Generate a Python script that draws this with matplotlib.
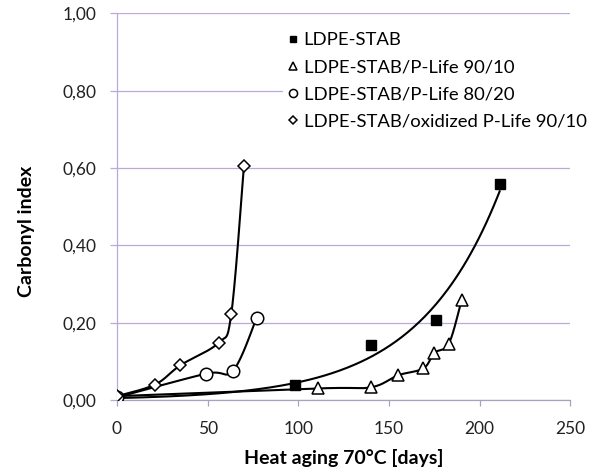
import numpy as np
import matplotlib.pyplot as plt
from matplotlib.ticker import FuncFormatter

plt.rcParams['font.family'] = ['Lato', 'DejaVu Sans']

# values (days, carbonyl index)
stab_x = [0, 98, 140, 176, 211]
stab_y = [0.005, 0.040, 0.142, 0.207, 0.560]

pl9010_x = [0, 111, 140, 155, 169, 175, 183, 190]
pl9010_y = [0.010, 0.030, 0.033, 0.064, 0.082, 0.122, 0.146, 0.258]

pl8020_x = [0, 49, 64, 77]
pl8020_y = [0.007, 0.068, 0.076, 0.212]

ox9010_x = [0, 21, 35, 56, 63, 70]
ox9010_y = [0.010, 0.040, 0.090, 0.148, 0.222, 0.605]

labels = ['LDPE-STAB', 'LDPE-STAB/P-Life 90/10', 'LDPE-STAB/P-Life 80/20',
          'LDPE-STAB/oxidized P-Life 90/10']

grid_col = '#bba9da'


def smooth(xs, ys, n=40):
    # catmull-rom through the points, like a spreadsheet smoothed line
    p = np.column_stack([np.asarray(xs) / 250.0, np.asarray(ys)])
    p = np.vstack([p[0], p, p[-1]])
    out = []
    t = np.linspace(0, 1, n)[:, None]
    for i in range(1, len(p) - 2):
        p0, p1, p2, p3 = p[i - 1], p[i], p[i + 1], p[i + 2]
        c1 = p1 + (p2 - p0) / 6
        c2 = p2 - (p3 - p1) / 6
        seg = ((1 - t) ** 3) * p1 + 3 * ((1 - t) ** 2) * t * c1 + 3 * (1 - t) * t ** 2 * c2 + t ** 3 * p2
        out.append(seg)
    out = np.vstack(out)
    return out[:, 0] * 250.0, out[:, 1]


fig = plt.figure(figsize=(5.95, 4.72), dpi=100)
ax = fig.add_axes([0.1966, 0.1525, 0.762, 0.819])

# exponential trend for LDPE-STAB
b, a = np.polyfit(stab_x, np.log(stab_y), 1)
xx = np.linspace(0, max(stab_x), 200)
ax.plot(xx, np.exp(a) * np.exp(b * xx), color='black', lw=1.5, zorder=3)

for xs, ys in [(pl9010_x, pl9010_y), (pl8020_x, pl8020_y), (ox9010_x, ox9010_y)]:
    sx, sy = smooth(xs, ys)
    ax.plot(sx, sy, color='black', lw=1.5, zorder=3)

ax.plot(stab_x, stab_y, 's', ms=7.5, mfc='black', mec='black', ls='none', label=labels[0], zorder=4)
ax.plot(pl9010_x, pl9010_y, '^', ms=9, mfc='white', mec='black', mew=1.1, ls='none', label=labels[1], zorder=4)
ax.plot(pl8020_x, pl8020_y, 'o', ms=9, mfc='white', mec='black', mew=1.1, ls='none', label=labels[2], zorder=4)
ax.plot(ox9010_x, ox9010_y, 'D', ms=6.5, mfc='white', mec='black', mew=1.1, ls='none', label=labels[3], zorder=4)

ax.set_xlim(0, 250)
ax.set_ylim(0, 1.0)
ax.set_xticks([0, 50, 100, 150, 200, 250])
ax.set_yticks([0, 0.2, 0.4, 0.6, 0.8, 1.0])
ax.yaxis.set_major_formatter(FuncFormatter(lambda v, p: f'{v:.2f}'.replace('.', ',')))
ax.grid(axis='y', color=grid_col, lw=0.9)
ax.set_axisbelow(True)

for s in ['top', 'right']:
    ax.spines[s].set_visible(False)
ax.spines['left'].set_color(grid_col)
ax.spines['left'].set_linewidth(0.9)
ax.spines['bottom'].set_color('#aaa0c0')
ax.spines['bottom'].set_linewidth(0.9)
ax.tick_params(axis='y', direction='out', length=5, width=0.9, color=grid_col,
               labelsize=12.5, pad=9.5, labelcolor='#222222')
ax.tick_params(axis='x', direction='out', length=4, width=0.9, color='#aaa0c0',
               labelsize=12.5, pad=11, labelcolor='#222222')

ax.set_xlabel('Heat aging 70°C [days]', fontsize=14, fontweight='bold', va='center')
ax.xaxis.set_label_coords(0.5, (400 - 458) / 386.5)
ax.set_ylabel('Carbonyl index', fontsize=14, fontweight='bold', va='center')
ax.yaxis.set_label_coords((27 - 117) / 453.5, 0.435)

leg = ax.legend(loc='upper left', bbox_to_anchor=(0.367, 0.963), frameon=True, fontsize=13.3,
                handlelength=0.5, handletextpad=0.35, labelspacing=0.6, borderpad=0.25,
                borderaxespad=0, markerscale=0.65)
leg.get_frame().set_edgecolor('none')
leg.get_frame().set_facecolor('white')
leg.get_frame().set_alpha(1)
leg.set_zorder(5)

fig.savefig('out.png', dpi=100)
